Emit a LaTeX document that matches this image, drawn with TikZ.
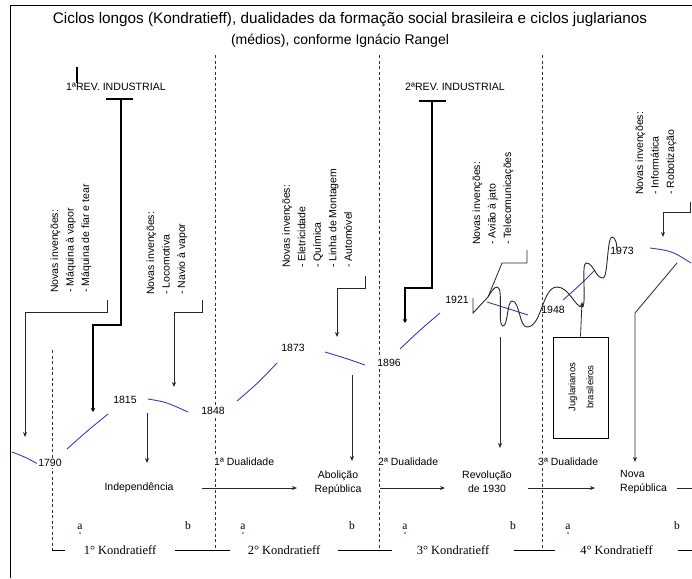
\documentclass[tikz,border=0pt]{standalone}
\usepackage{fontspec}
\setmainfont{Liberation Sans}
\newfontfamily\serifk{Liberation Serif}
\usetikzlibrary{arrows.meta}
\definecolor{kblue}{RGB}{60,60,190}
\definecolor{lgreen}{RGB}{60,170,60}
\definecolor{conn}{RGB}{40,40,40}
\begin{document}
\begin{tikzpicture}[x=1pt,y=-1pt,
  yr/.style={inner sep=1pt, fill=white, font=\fontsize{10.5}{12}\selectfont},
  yrn/.style={inner sep=1pt, font=\fontsize{10.5}{12}\selectfont},
  ev/.style={inner sep=1pt, align=center, font=\fontsize{10.5}{14}\selectfont},
  inv/.style={rotate=90, anchor=west, align=left, inner sep=0pt, font=\fontsize{10.5}{15.5}\selectfont},
  kb/.style={draw=kblue, line width=0.9pt},
  cn/.style={draw=conn, line width=0.8pt},
  arr/.style={cn, -{Stealth[length=5pt,width=4pt]}},
  thk/.style={draw=black, line width=2.2pt},
  dsh/.style={draw=black!80, line width=0.8pt, dash pattern=on 3pt off 2.5pt},
  kond/.style={font=\serifk\fontsize{12.5}{14}\selectfont, fill=white, inner ysep=1pt},
  ab/.style={font=\serifk\fontsize{11.5}{13}\selectfont, inner sep=0pt},
  rev/.style={inner sep=0pt, font=\fontsize{10.6}{12}\selectfont},
  dual/.style={inner sep=1pt, fill=white, anchor=west, font=\fontsize{10.5}{12}\selectfont}
]
\useasboundingbox (0,0) rectangle (692,578);
\fill[white] (0,0) rectangle (692,578);
% frame
\draw[line width=0.8pt] (10,578) -- (10,5) -- (692,5);
% title
\node[inner sep=0pt, font=\fontsize{15.3}{18}\selectfont] (title1) at (350,20)
  {Ciclos longos (Kondratieff), dualidades da formação social brasileira e ciclos juglarianos};
\node[inner sep=0pt, font=\fontsize{14}{18}\selectfont] (title2) at (340,41)
  {(médios), conforme Ignácio Rangel};

% dashed separators
\draw[dsh] (52,350) -- (52,550);
\draw[dsh] (215,55) -- (215,550);
\draw[dsh] (379,55) -- (379,550);
\draw[dsh] (542,55) -- (542,550);

% Kondratieff baseline
\draw[line width=0.8pt] (52,550) -- (692,550);
\node[kond, minimum width=110pt] (k1) at (120,550) {1° Kondratieff};
\node[kond, minimum width=108pt] (k2) at (284,550) {2° Kondratieff};
\node[kond, minimum width=122pt] (k3) at (453,550) {3° Kondratieff};
\node[kond, minimum width=123pt] (k4) at (616.5,550) {4° Kondratieff};

% a / b
\foreach \n/\x in {1/80,2/243,3/405,4/568}{
  \node[ab] (a\n) at (\x,527) {a};
  \fill[lgreen] (\x,533) circle (1.1pt);
}
\foreach \n/\x in {1/188,2/352,3/513,4/677}{
  \node[ab] (b\n) at (\x,526) {b};
}

% dualidades
\node[dual] (d1) at (213,462) {1ª Dualidade};
\node[dual] (d2) at (377,462) {2ª Dualidade};
\node[dual] (d3) at (537,462) {3ª Dualidade};

% events
\node[ev] (indep) at (139,488) {Independência};
\node[ev] (abol) at (338,483) {Abolição\\República};
\node[ev] (revo) at (487,482) {Revolução\\de 1930};
\node[ev, align=left, anchor=west] (nova) at (619,482) {Nova\\República};
\coordinate (e1s) at (202,488); \coordinate (e1e) at (297,488);
\coordinate (e2s) at (380,488); \coordinate (e2e) at (445,488);
\coordinate (e3s) at (528,488); \coordinate (e3e) at (595,488);
\coordinate (e4s) at (677,488); \coordinate (e4e) at (692,488);
\draw[arr] (e1s) -- (e1e);
\draw[arr] (e2s) -- (e2e);
\draw[arr] (e3s) -- (e3e);
\draw[cn] (e4s) -- (e4e);

% blue Kondratieff curves
\draw[kb] (12,452) .. controls (25,457) .. (38,464);
\draw[kb] (67,449) .. controls (86,432) .. (108,414);
\draw[kb] (148,399) .. controls (166,402) .. (188,412);
\draw[kb] (237,401) .. controls (258,383) .. (277,363);
\draw[kb] (325,352) .. controls (348,359) .. (365,365);
\draw[kb] (400,349) .. controls (420,330) .. (440,313);
\draw[kb] (487,302) .. controls (508,309) .. (528,315);
\draw[kb] (563,300) .. controls (580,285) .. (595,270);
\draw[kb] (650,248) .. controls (672,251) .. (691,263);

% years
\node[yr] (y1790) at (50,463) {1790};
\node[yrn] (y1815) at (125,400) {1815};
\node[yr] (y1848) at (213,411) {1848};
\node[yrn] (y1873) at (293,348) {1873};
\node[yr] (y1896) at (389,363) {1896};
\node[yrn] (y1921) at (457,300) {1921};
\node[yrn] (y1948) at (553,310) {1948};
\node[yrn] (y1973) at (622,251) {1973};

% arrows to events
\draw[arr] (147,413) -- (147,463);
\draw[arr] (352,375) -- (352,461);
\draw[arr] (500,337) -- (500,448);
\draw[arr] (677,263) -- (635,313) -- (635,462);

% Revolutions
\node[rev] (rev1) at (116,87) {1ªREV. INDUSTRIAL};
\draw[line width=2pt] (77,67) -- (77,83);
\draw[line width=1.3pt] (106,99) -- (133,99);
\draw[thk, -{Stealth[length=4pt,width=4.5pt]}] (121,99) -- (121,325) -- (93,325) -- (93,412);
\node[rev] (rev2) at (455,87) {2ªREV. INDUSTRIAL};
\draw[line width=1.3pt] (419,101) -- (446,101);
\draw[thk, -{Stealth[length=4pt,width=4.5pt]}] (432,101) -- (432,288) -- (405,288) -- (405,323);

% inventions
\node[inv] (inv1) at (71,293) {Novas invenções:\\- Máquina à vapor\\- Máquina de fiar e tear};
\draw[arr] (107,300) -- (107,312) -- (25,312) -- (25,437);
\node[inv] (inv2) at (167,295) {Novas invenções:\\- Locomotiva\\- Navio à vapor};
\draw[arr] (202,300) -- (202,312) -- (174,312) -- (174,387);
\node[inv] (inv3) at (317,268) {Novas invenções:\\- Eletricidade\\- Química\\- Linha de Montagem\\- Automóvel};
\draw[arr] (365,276) -- (365,288) -- (337,288) -- (337,337);
\node[inv] (inv4) at (493,245) {Novas invenções:\\- Avião à jato\\- Telecomunicações};
\draw[cn] (527,250) -- (527,263) -- (502,263) -- (488,297);
\node[inv] (inv5) at (656,195) {Novas invenções:\\- Informática\\- Robotização};
\draw[arr] (690,202) -- (690,212) -- (663,212) -- (663,237);

% Juglar wave
\draw[cn, line width=0.9pt] (473,298) -- (473,313) -- (488,297)
  .. controls (491,292) and (494,287) .. (497,287)
  .. controls (504,287) and (497,326) .. (503,326)
  .. controls (508,326) and (507,301) .. (512,301)
  .. controls (520,301) and (519,327) .. (527,327)
  .. controls (542,327) and (542,287) .. (557,287)
  .. controls (569,287) and (575,307) .. (582,307)
  .. controls (587,307) and (581,263) .. (586,263)
  .. controls (594,263) and (595,278) .. (603,278)
  .. controls (608,278) and (607,237) .. (612,237)
  .. controls (616,237) and (617,245) .. (617,253);

% Juglarianos box
\node[draw, line width=0.8pt, minimum width=55pt, minimum height=101pt, inner sep=0pt] (jbox) at (580.5,387.5) {};
\node[rotate=90, align=center, inner sep=0pt, font=\fontsize{9.5}{18}\selectfont] (jtxt) at (581,387) {Juglarianos\\brasileiros};
\coordinate (jtip) at (582,302);
\draw[arr] (jbox.north) -- (jtip);
\end{tikzpicture}
\end{document}
